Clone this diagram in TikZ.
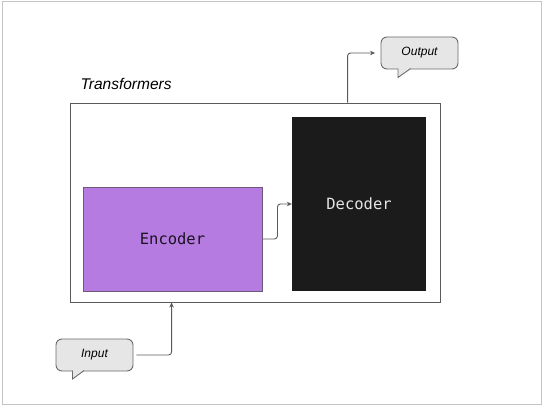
\documentclass[tikz,border=0pt]{standalone}
\usepackage{fontspec}
\setmainfont{Liberation Sans}
\newfontfamily\monofam{DejaVu Sans Mono}
\usetikzlibrary{arrows.meta,calc}
\definecolor{encfill}{HTML}{B57BE0}
\definecolor{encline}{HTML}{6E5A78}
\definecolor{decfill}{HTML}{1B1B1B}
\definecolor{bubfill}{HTML}{E6E6E6}
\definecolor{bubline}{HTML}{6A6A6A}
\definecolor{conn}{HTML}{5A5A5A}
\definecolor{frame}{HTML}{C4C4C4}
\tikzset{
  blockbox/.style={draw=conn, line width=0.9pt, minimum width=370pt, minimum height=199pt, inner sep=0pt},
  encbox/.style={draw=encline, line width=0.9pt, fill=encfill, minimum width=179pt, minimum height=104pt, inner sep=0pt,
    font=\monofam\fontsize{15.5}{18}\selectfont, text=black!85!encfill},
  decbox/.style={fill=decfill, minimum width=134pt, minimum height=174pt, inner sep=0pt,
    font=\monofam\fontsize{15.5}{18}\selectfont, text=white!90!black},
  bubble/.style={draw=bubline, line width=0.9pt, fill=bubfill, rounded corners=6pt, minimum width=77pt, minimum height=32pt,
    inner sep=0pt, font=\itshape\fontsize{12}{14}\selectfont},
  connector/.style={draw=conn, line width=0.9pt, rounded corners=3pt, -{Stealth[length=5pt,width=4.5pt]}},
  tail/.style={draw=bubline, line width=0.9pt, line join=miter}
}
\begin{document}
\begin{tikzpicture}[x=1pt,y=-1pt]
\useasboundingbox (0,0) rectangle (545,409);
\draw[frame, line width=1pt] (2,1.5) rectangle (541,404.5);

\node[blockbox] (tbox) at (255,202.5) {};
\node[anchor=base west, font=\itshape\fontsize{15.5}{18}\selectfont] (tlabel) at (77,90) {Transformers};

\node[encbox] (enc) at (172.5,239) {Encoder};
\node[decbox] (dec) at (359,204) {Decoder};

\draw[connector] (enc.east) -- ++(15,0) |- (dec.west);

% Output bubble
\node[bubble] (out) at (419.5,53) {Output};
\fill[bubfill] (398,68) -- (410.5,68) -- (398,77.5) -- cycle;
\draw[tail] (398,68.6) -- (398,77.5) -- (410.5,68.6);

% Input bubble
\node[bubble] (in) at (94.5,355) {Input};
\fill[bubfill] (72.5,370) -- (84,370) -- (72.5,379) -- cycle;
\draw[tail] (72.5,370.6) -- (72.5,379) -- (84,370.6);

\coordinate (outstart) at ($(tbox.north west)+(278,0)$);
\coordinate (instop) at ($(tbox.south west)+(102,0)$);
\draw[connector, shorten >=5.5pt] (outstart) |- (out.west);
\draw[connector, shorten <=3pt] (in.east) -| (instop);
\end{tikzpicture}
\end{document}
